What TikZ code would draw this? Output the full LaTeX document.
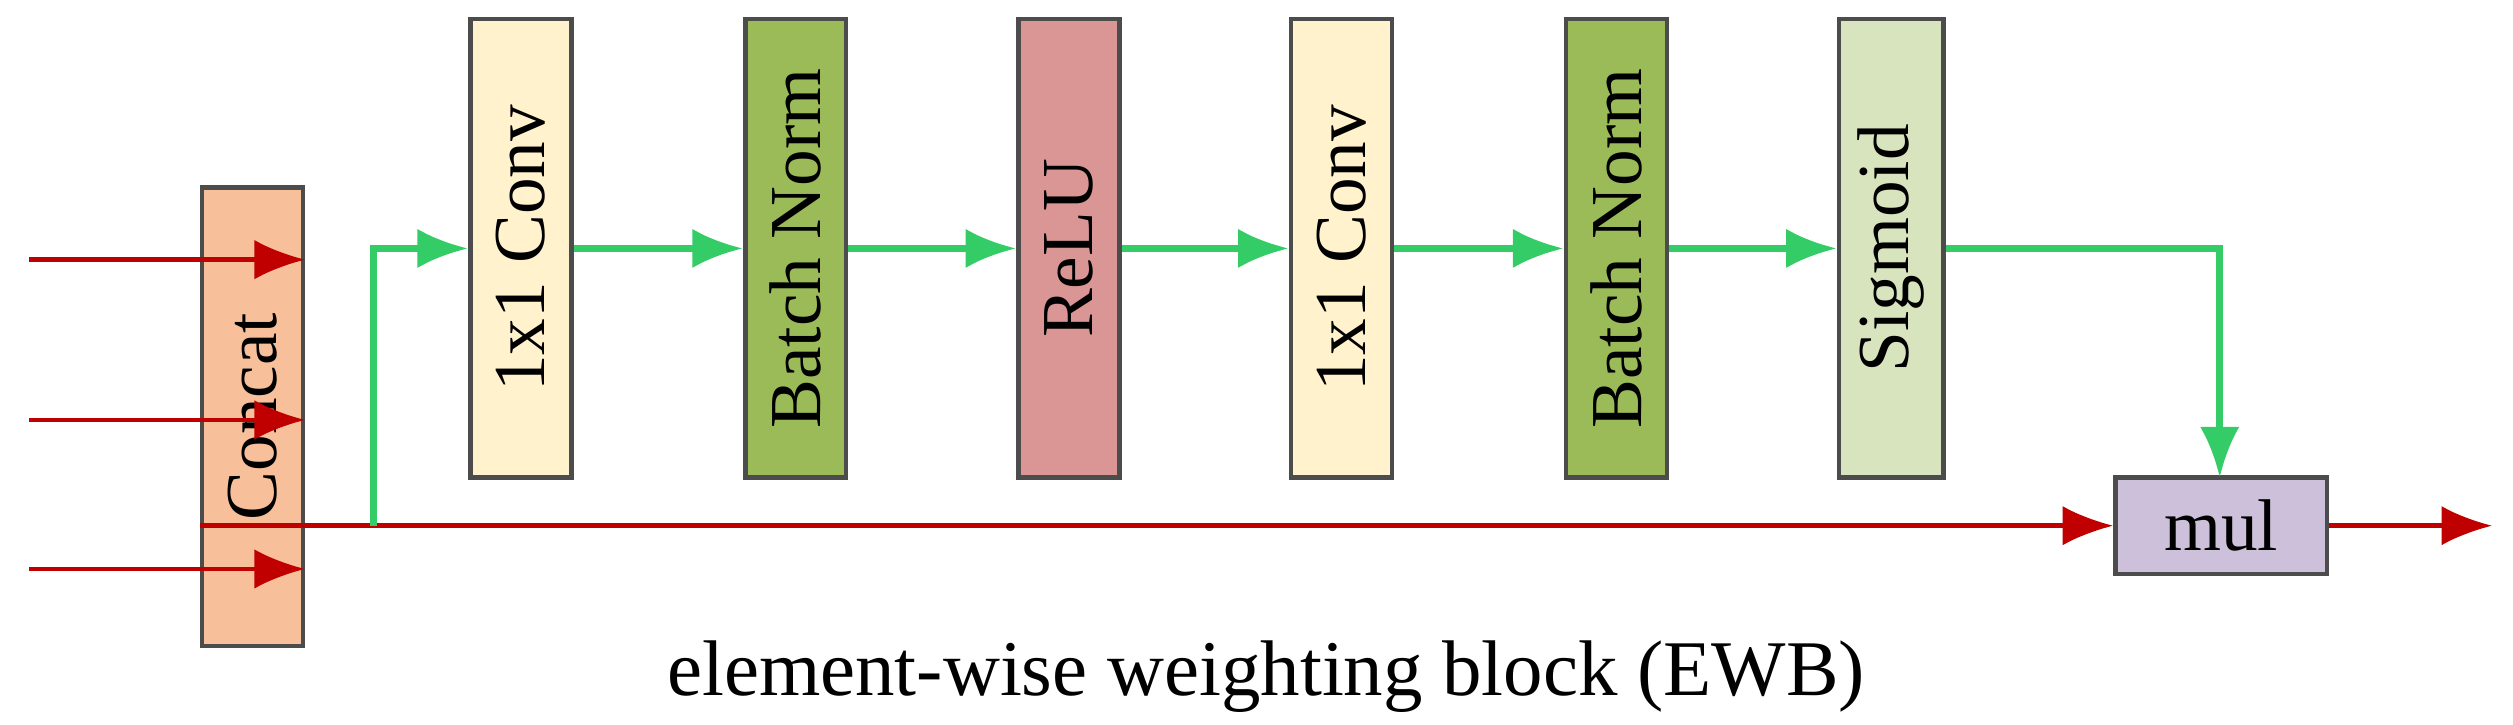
\documentclass[tikz,border=0pt]{standalone}
\usepackage{fontspec}
\setmainfont{Liberation Serif}
\usetikzlibrary{arrows.meta,positioning}
\definecolor{convc}{HTML}{FFF2CC}
\definecolor{bnc}{HTML}{9BBB59}
\definecolor{reluc}{HTML}{D99694}
\definecolor{sigc}{HTML}{D7E4BD}
\definecolor{catc}{HTML}{F8C09A}
\definecolor{mulc}{HTML}{CCC0DA}
\definecolor{redl}{HTML}{C00000}
\definecolor{greenl}{HTML}{33CC66}
\tikzset{
  blk/.style={draw=black!70,thick,minimum width=2.86cm,minimum height=0.63cm,
    rotate=90,font=\fontsize{13}{15}\selectfont},
  ra/.style={-{Latex[length=9pt,width=7pt]},redl,thick},
  ga/.style={-{Latex[length=9pt,width=7pt]},greenl,very thick}
}
\begin{document}
\begin{tikzpicture}
  \useasboundingbox (0,0) rectangle (15.68,4.52);

  \node[blk,fill=catc] (cat) at (1.575,1.92) {Concat};
  \node[blk,fill=convc] (c1) at (3.25,2.97) {1x1 Conv};
  \node[blk,fill=bnc] (b1) at (4.965,2.97) {Batch Norm};
  \node[blk,fill=reluc] (re) at (6.67,2.97) {ReLU};
  \node[blk,fill=convc] (c2) at (8.37,2.97) {1x1 Conv};
  \node[blk,fill=bnc] (b2) at (10.085,2.97) {Batch Norm};
  \node[blk,fill=sigc] (sg) at (11.8,2.97) {Sigmoid};
  \node[draw=black!70,thick,fill=mulc,minimum width=1.32cm,minimum height=0.6cm,
    font=\fontsize{13}{15}\selectfont] (mul) at (13.86,1.24) {mul};
  \node[font=\fontsize{14}{16}\selectfont] (cap) at (7.9,0.3) {element-wise weighting block (EWB)};

  \coordinate (i1) at (0.18,2.9);
  \coordinate (i2) at (0.18,1.9);
  \coordinate (i3) at (0.18,0.97);
  \coordinate (sp) at (2.33,1.24);
  \coordinate (out) at (15.55,1.24);

  \draw[ra] (i1) -- (i1 -| cat.south);
  \draw[ra] (i2) -- (i2 -| cat.south);
  \draw[ra] (i3) -- (i3 -| cat.south);
  \draw[ra] (sp -| cat.north) -- (mul.west);
  \draw[ra] (mul.east) -- (out);
  \draw[ga] (sp) |- (c1.north);
  \draw[ga] (c1) -- (b1);
  \draw[ga] (b1) -- (re);
  \draw[ga] (re) -- (c2);
  \draw[ga] (c2) -- (b2);
  \draw[ga] (b2) -- (sg);
  \draw[ga] (sg.south) -| (13.85,1.54);
\end{tikzpicture}
\end{document}
